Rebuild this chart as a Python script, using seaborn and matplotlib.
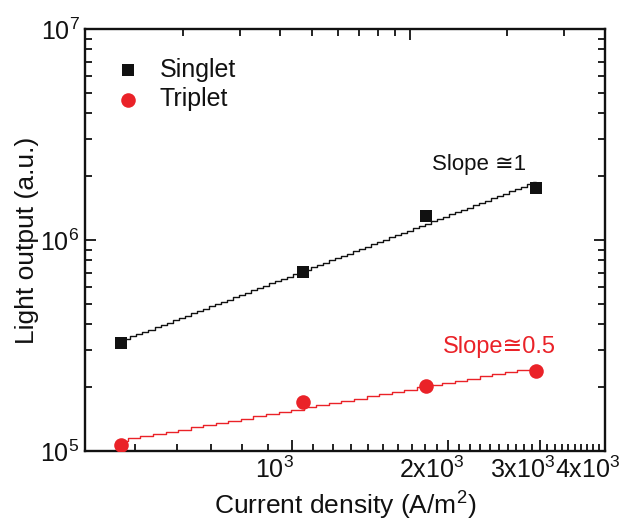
import numpy as np
import pandas as pd
import matplotlib
matplotlib.use("Agg")
import matplotlib.pyplot as plt
import matplotlib.transforms as mtransforms
import seaborn as sns
from matplotlib.ticker import FixedLocator, NullFormatter, LogLocator

# ---- data ----
current_density = [470, 1050, 1810, 2950]          # A/m^2
singlet = [3.25e5, 7.05e5, 1.30e6, 1.76e6]          # a.u.
triplet = [1.07e5, 1.71e5, 2.03e5, 2.39e5]          # a.u.
series_names = ["Singlet", "Triplet"]
x_ticks = [1000, 2000, 3000, 4000]
x_tick_labels = [r"$\mathregular{10^{3}}$", r"$\mathregular{2x10^{3}}$",
                 r"$\mathregular{3x10^{3}}$", r"$\mathregular{4x10^{3}}$"]
y_ticks = [1e5, 1e6, 1e7]
y_tick_labels = [r"$\mathregular{10^{5}}$", r"$\mathregular{10^{6}}$",
                 r"$\mathregular{10^{7}}$"]
slope_labels = ["Slope \u22451", "Slope\u22450.5"]

BLACK = "#111111"
RED = "#ea2228"

sns.set_theme(style="ticks")
plt.rcParams["font.family"] = ["Liberation Sans", "DejaVu Sans"]
plt.rcParams["mathtext.fontset"] = "custom"
plt.rcParams["mathtext.rm"] = "Liberation Sans"
plt.rcParams["mathtext.it"] = "Liberation Sans:italic"
plt.rcParams["mathtext.bf"] = "Liberation Sans:bold"

fig = plt.figure(figsize=(6.21, 5.21), dpi=100)
ax = fig.add_axes([85 / 621, 70 / 521, 520 / 621, 422 / 521])
ax.set_xscale("log")
ax.set_yscale("log")


def fit_frame(x, y, n):
    p = np.polyfit(np.log10(x), np.log10(y), 1)
    xs = np.logspace(np.log10(x[0]), np.log10(x[-1]), n)
    return pd.DataFrame({"x": xs, "y": 10 ** np.polyval(p, np.log10(xs))})


sf = fit_frame(current_density, singlet, 70)
tf = fit_frame(current_density, triplet, 34)
sns.lineplot(data=sf, x="x", y="y", ax=ax, color=BLACK, lw=1.0,
             drawstyle="steps-mid", legend=False)
sns.lineplot(data=tf, x="x", y="y", ax=ax, color=RED, lw=1.0,
             drawstyle="steps-mid", legend=False)

sns.scatterplot(x=current_density, y=singlet, ax=ax, marker="s", s=85,
                color=BLACK, linewidth=0, label=series_names[0], zorder=5)
sns.scatterplot(x=current_density, y=triplet, ax=ax, marker="o", s=110,
                color=RED, linewidth=0, label=series_names[1], zorder=5)

ax.set_xlim(400, 4000)
ax.set_ylim(1e5, 1e7)

ax.xaxis.set_major_locator(FixedLocator(x_ticks))
ax.set_xticklabels(x_tick_labels, fontsize=18)
ax.xaxis.set_minor_locator(FixedLocator(list(range(500, 1000, 100)) +
                                        list(range(1100, 4000, 100))))
ax.xaxis.set_minor_formatter(NullFormatter())
ax.yaxis.set_major_locator(FixedLocator(y_ticks))
ax.set_yticklabels(y_tick_labels, fontsize=18)
ax.yaxis.set_minor_locator(LogLocator(base=10, subs=np.arange(2, 10)))
ax.yaxis.set_minor_formatter(NullFormatter())

ax.tick_params(axis="both", which="both", direction="in", colors=BLACK,
               width=1.3)
ax.tick_params(axis="both", which="major", length=8)
ax.tick_params(axis="x", which="major", pad=4)
ax.tick_params(axis="y", which="major", pad=4)
ax.tick_params(axis="both", which="minor", length=5)
ax.tick_params(axis="y", which="both", left=True, right=True)
ax.tick_params(axis="x", which="both", bottom=True, top=False)
for sp in ax.spines.values():
    sp.set_linewidth(1.7)
    sp.set_color(BLACK)

# shift x tick labels slightly left, as in the original
shift = mtransforms.ScaledTranslation(-0.17, 0, fig.dpi_scale_trans)
for lab in ax.get_xticklabels():
    lab.set_transform(lab.get_transform() + shift)

# top axis ticks (separate log scale, as in the original figure)
top = ax.twiny()
top.set_xscale("log")
top.set_xlim(0.1, 4)
top.xaxis.set_major_locator(FixedLocator([1]))
top.xaxis.set_minor_locator(FixedLocator([0.2, 0.3, 0.4, 0.5, 0.6, 0.7, 0.8, 0.9, 2, 3]))
top.xaxis.set_major_formatter(NullFormatter())
top.xaxis.set_minor_formatter(NullFormatter())
top.tick_params(axis="x", which="both", direction="in", top=True, bottom=False,
                labeltop=False, width=1.3, colors=BLACK)
top.tick_params(axis="x", which="major", length=8)
top.tick_params(axis="x", which="minor", length=5)
for sp in top.spines.values():
    sp.set_visible(False)

ax.set_xlabel("Current density (A/m$\\mathregular{^2}$)", fontsize=19,
              color=BLACK, labelpad=5)
ax.set_ylabel("Light output (a.u.)", fontsize=19, color=BLACK)
ax.yaxis.set_label_coords(-0.088, 0.5)

ax.text(0.667, 0.678, slope_labels[0], transform=ax.transAxes, fontsize=16,
        color=BLACK, va="center", ha="left")
ax.text(0.688, 0.246, slope_labels[1], transform=ax.transAxes, fontsize=17,
        color=RED, va="center", ha="left")

leg = ax.legend(loc="upper left", bbox_to_anchor=(0.040, 0.955), frameon=False,
                fontsize=18, handlelength=0.95, handletextpad=0.8,
                labelspacing=0.22, borderaxespad=0)
for t in leg.get_texts():
    t.set_color(BLACK)

fig.savefig("out.png", dpi=100)
